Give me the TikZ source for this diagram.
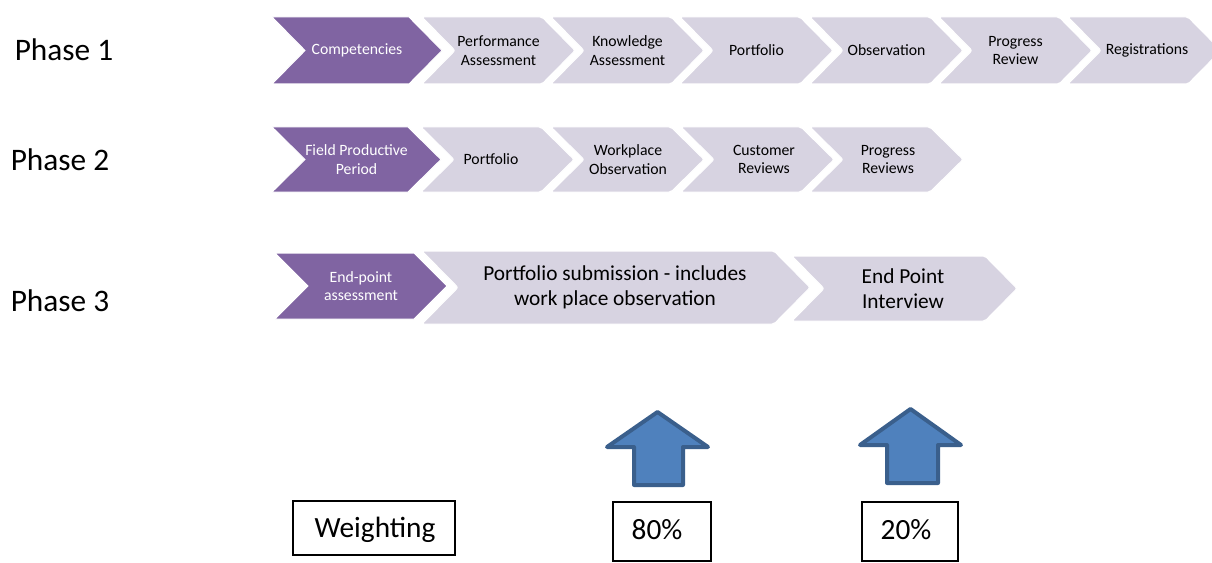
\documentclass[tikz,border=0pt]{standalone}
\usepackage{fontspec}
\setmainfont{Carlito}
\definecolor{purp}{HTML}{8064A2}
\definecolor{lgrey}{HTML}{D7D3E1}
\definecolor{abl}{HTML}{4F81BD}
\definecolor{abd}{HTML}{3A5F8C}
% #1 style, #2 x0, #3 ytop, #4 ybot, #5 width, #6 depth
\newcommand{\chevshape}[6]{%
  \path[#1] (#2,#3) -- ({#2+#5-#6},#3) -- ({#2+#5},{(#3+#4)/2}) -- ({#2+#5-#6},#4)
    -- (#2,#4) -- ({#2+#6},{(#3+#4)/2}) -- cycle;}
\begin{document}
\begin{tikzpicture}[x=0.75pt,y=-0.75pt,
  purpchev/.style={fill=purp, draw=white, line width=0.75pt},
  greychev/.style={fill=lgrey, draw=white, line width=0.75pt, rounded corners=1.5pt},
  wlbl/.style={text=white, align=center, font=\fontsize{11.8}{14}\selectfont, inner sep=0pt},
  blbl/.style={text=black, align=center, font=\fontsize{11.8}{14}\selectfont, inner sep=0pt},
  biglbl/.style={text=black, align=center, font=\fontsize{16}{19}\selectfont, inner sep=0pt},
  phase/.style={font=\fontsize{23.5}{27}\selectfont, inner sep=0pt},
  wbox/.style={draw=black, line width=1pt, inner sep=0pt, font=\fontsize{22}{26}\selectfont},
  uparrow/.style={fill=abl, draw=abd, line width=3pt, line join=round}
]
\useasboundingbox (0,0) rectangle (1212,563);

% Phase labels
\node[phase] (p1) at (64,50) {Phase 1};
\node[phase] (p2) at (60,160) {Phase 2};
\node[phase] (p3) at (60,301) {Phase 3};

% Row 1
\chevshape{purpchev}{272}{17}{84}{170}{33}
\chevshape{greychev}{422}{17}{84}{153}{33}
\chevshape{greychev}{551}{17}{84}{153}{33}
\chevshape{greychev}{680}{17}{84}{153}{33}
\chevshape{greychev}{810}{17}{84}{153}{33}
\chevshape{greychev}{939}{17}{84}{153}{33}
\chevshape{greychev}{1068}{17}{84}{153}{33}
\node[wlbl] (a1) at (357,50.5) {Competencies};
\node[blbl] (a2) at (498.5,50.5) {Performance\\Assessment};
\node[blbl] (a3) at (627.5,50.5) {Knowledge\\Assessment};
\node[blbl] (a4) at (756.5,50.5) {Portfolio};
\node[blbl] (a5) at (886.5,50.5) {Observation};
\node[blbl] (a6) at (1015.5,50.5) {Progress\\Review};
\node[blbl] (a7) at (1147,50.5) {Registrations};

% Row 2
\chevshape{purpchev}{272}{127}{192}{169}{33}
\chevshape{greychev}{421}{127}{192}{153}{33}
\chevshape{greychev}{551}{127}{192}{153}{33}
\chevshape{greychev}{681}{127}{192}{153}{33}
\chevshape{greychev}{810}{127}{192}{153}{33}
\node[wlbl] (b1) at (356.5,159.5) {Field Productive\\Period};
\node[blbl] (b2) at (491,159.5) {Portfolio};
\node[blbl] (b3) at (628,159.5) {Workplace\\Observation};
\node[blbl] (b4) at (764,159.5) {Customer\\Reviews};
\node[blbl] (b5) at (888,159.5) {Progress\\Reviews};

% Row 3
\chevshape{purpchev}{275}{253}{319}{172}{33}
\chevshape{greychev}{422}{251}{324}{388}{36}
\chevshape{greychev}{792}{256}{321}{225}{32}
\node[wlbl] (c1) at (361,286) {End-point\\assessment};
\node[biglbl] (c2) at (615,287.5) {Portfolio submission - includes\\work place observation};
\node[biglbl] (c3) at (903,288.5) {End Point\\Interview};

% Arrows
\path[uparrow] (657.5,412) -- (708,447) -- (683,447) -- (683,485) -- (634,485)
  -- (634,447) -- (607,447) -- cycle;
\path[uparrow] (910.5,409) -- (961,445) -- (938,445) -- (938,483) -- (887,483)
  -- (887,445) -- (860,445) -- cycle;

% Weighting boxes
\node[wbox, minimum width=121.5pt, minimum height=40.5pt] (w0) at (374,528) {};
\node[font=\fontsize{22}{26}\selectfont, inner sep=0pt] (w0t) at (375,530) {Weighting};
\node[wbox, minimum width=73.5pt, minimum height=44.25pt] (w1) at (662,531.5) {};
\node[font=\fontsize{22}{26}\selectfont, inner sep=0pt] (w1t) at (657,530) {80\%};
\node[wbox, minimum width=72pt, minimum height=44.25pt] (w2) at (910,531.5) {};
\node[font=\fontsize{22}{26}\selectfont, inner sep=0pt] (w2t) at (906,530) {20\%};
\end{tikzpicture}
\end{document}
